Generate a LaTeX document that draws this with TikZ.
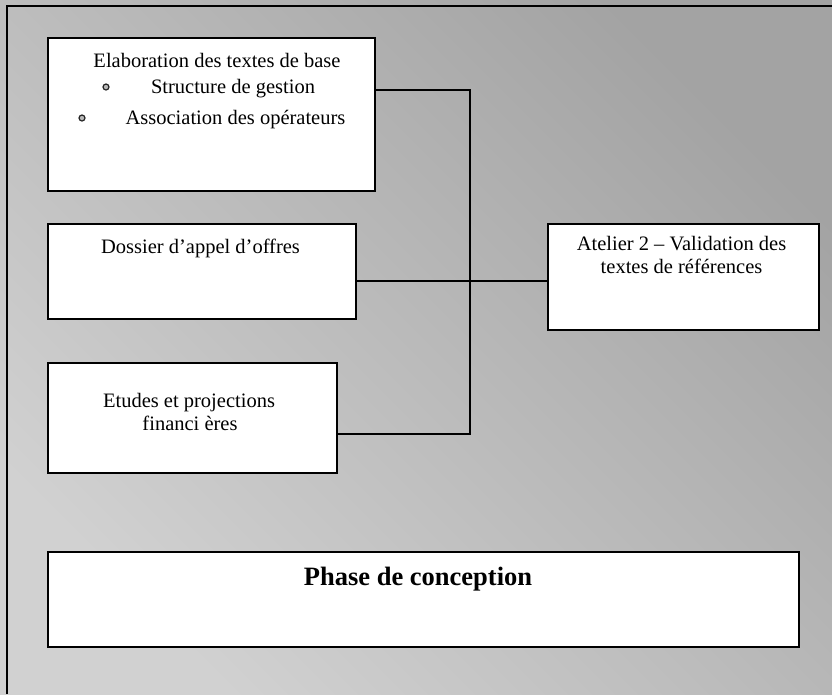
\documentclass[tikz,border=0pt]{standalone}
\usepackage{fontspec}
\setmainfont{Liberation Serif}
\begin{document}
\begin{tikzpicture}[x=1pt,y=-1pt,
  box/.style={draw=black, line width=1.8pt, fill=white, inner sep=0pt, anchor=north west},
  lbl/.style={anchor=base, inner sep=0pt, font=\fontsize{20.5}{23}\selectfont},
  conn/.style={draw=black, line width=1.4pt},
  bul/.style={circle, draw=black!85, line width=1.2pt, fill=gray!55, inner sep=0pt, minimum size=6pt}]
\useasboundingbox (0,0) rectangle (832,694);
\shade[top color=black!36, bottom color=black!18, shading angle=-45] (0,0) rectangle (832,694);
\draw[line width=2pt] (7,694) -- (7,6) -- (832,6);
% boxes
\node[box, minimum width=327pt, minimum height=153pt] (elab) at (47,37) {};
\node[box, minimum width=308pt, minimum height=95pt] (dossier) at (47,223) {};
\node[box, minimum width=289pt, minimum height=110pt] (etudes) at (47,362) {};
\node[box, minimum width=271pt, minimum height=106pt] (atelier) at (547,223) {};
\node[box, minimum width=751pt, minimum height=95pt] (phase) at (47,551) {};
% junction coordinates
\coordinate (j1) at (470,90);
\coordinate (j2) at (470,434);
\coordinate (j3) at (470,281);
\draw[conn] (j1 -| elab.east) -- (j1) -- (j2) -- (j2 -| etudes.east);
\draw[conn] (j3 -| dossier.east) -- (j3 -| atelier.west);
% bullets
\node[bul] (b1) at (106,87) {};
\node[bul] (b2) at (82,118) {};
% texts
\node[lbl] (t1) at (217,67) {Elaboration des textes de base};
\node[lbl] (t2) at (233,93) {Structure de gestion};
\node[lbl] (t3) at (235.5,124) {Association des opérateurs};
\node[lbl] (t4) at (200.5,253) {Dossier d’appel d’offres};
\node[lbl] (t5) at (681.5,250) {Atelier 2 – Validation des};
\node[lbl] (t6) at (681.5,273) {textes de références};
\node[lbl] (t7) at (189,407) {Etudes et projections};
\node[lbl] (t8) at (190,430) {financi ères};
\node[lbl, font=\bfseries\fontsize{26.5}{30}\selectfont] (t9) at (418,585) {Phase de conception};
\end{tikzpicture}
\end{document}
